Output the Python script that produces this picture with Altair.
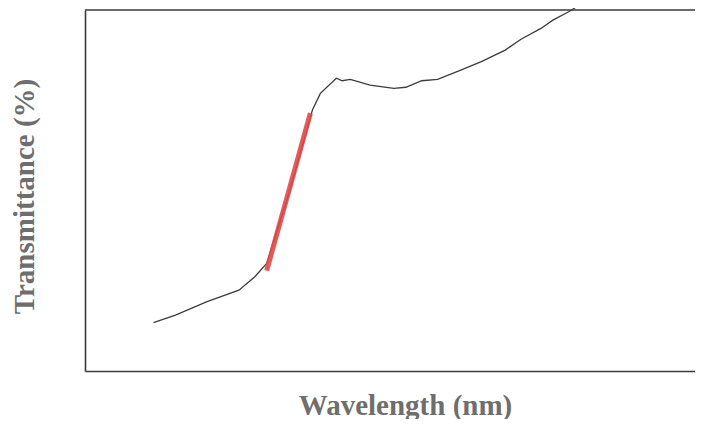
import altair as alt
import pandas as pd

# Black transmittance curve (wavelength in nm, transmittance in %)
wl = [366.5, 387.8, 418.5, 449.4, 464.9, 476.4, 499.0, 520.8, 528.5, 544.0,
      549.7, 557.5, 576.7, 599.9, 611.5, 626.9, 642.3, 665.4, 684.8, 707.9,
      723.3, 742.6, 754.2, 769.6, 777.3]
tr = [13.4, 15.5, 19.2, 22.4, 26.1, 29.8, 50.1, 72.3, 76.9, 81.1,
      80.4, 80.8, 79.2, 78.3, 78.6, 80.4, 80.8, 83.4, 85.7, 88.9,
      91.9, 94.9, 97.2, 99.5, 100.9]

# Red linear segment on the absorption edge
red_wl = [476.4, 518.8]
red_tr = [27.8, 71.4]

curve = pd.DataFrame({"wl": wl, "tr": tr})
seg = pd.DataFrame({"wl": red_wl, "tr": red_tr})

W, H = 610, 361
xs = alt.Scale(domain=[300, 892.2], nice=False, zero=False)
ys = alt.Scale(domain=[0, 100], nice=False, zero=False)

xaxis = alt.Axis(title="Wavelength (nm)", ticks=False, labels=False, domain=True,
                 grid=False, titlePadding=20, titleX=320)
yaxis = alt.Axis(title="Transmittance (%)", ticks=False, labels=False, domain=True,
                 grid=False, titlePadding=46, titleY=186)

line = alt.Chart(curve).mark_line(color="#3c3c3c", strokeWidth=1.3, clip=False).encode(
    x=alt.X("wl:Q", scale=xs, axis=xaxis),
    y=alt.Y("tr:Q", scale=ys, axis=yaxis),
)

red = alt.Chart(seg).mark_line(color="#e04848", strokeWidth=5, opacity=0.9,
                               strokeCap="butt").encode(
    x=alt.X("wl:Q", scale=xs),
    y=alt.Y("tr:Q", scale=ys),
)

top = alt.Chart(pd.DataFrame({"a": [0]})).mark_rule(
    color="#3a3a3a", strokeWidth=1.6
).encode(x=alt.value(0), x2=alt.value(W + 10), y=alt.value(0))

chart = alt.layer(line, red, top).properties(
    width=W, height=H,
    autosize=alt.AutoSizeParams(type="none"),
    padding={"left": 77, "top": 2, "right": 0, "bottom": 48},
).configure(
    background="white"
).configure_view(
    stroke=None
).configure_axis(
    titleFont="Liberation Serif", titleFontSize=29, titleFontWeight="bold",
    titleColor="#6e6e6e", domainColor="#3a3a3a", domainWidth=1.6
)

chart.save("out.html", embed_options={"renderer": "svg", "actions": False})
